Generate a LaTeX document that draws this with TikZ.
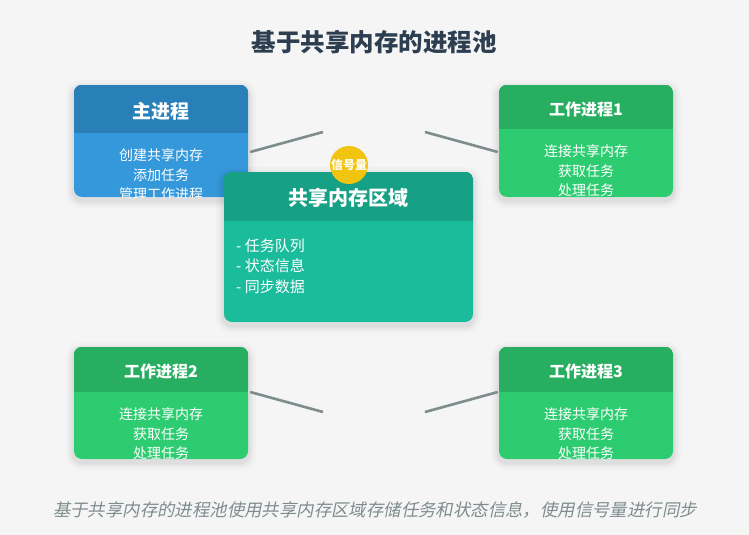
\documentclass[tikz,border=0pt]{standalone}
\usepackage{fontspec}
\setmainfont{Noto Sans CJK SC}
\newfontfamily\capfont[FakeSlant=0.2]{Noto Sans CJK SC}

\definecolor{bgcol}{HTML}{F5F5F5}
\definecolor{titlecol}{HTML}{2C3E50}
\definecolor{linkcol}{HTML}{7F8C8D}
\definecolor{blueDark}{HTML}{2980B9}
\definecolor{blueLight}{HTML}{3498DB}
\definecolor{greenDark}{HTML}{27AE60}
\definecolor{greenLight}{HTML}{2ECC71}
\definecolor{tealDark}{HTML}{16A085}
\definecolor{tealLight}{HTML}{1ABC9C}
\definecolor{semcol}{HTML}{F1C40F}

\tikzset{
  softshadow/.style={
    preaction={draw=black, draw opacity=0.02, line width=16pt, transform canvas={yshift=-3pt}},
    preaction={draw=black, draw opacity=0.03, line width=10pt, transform canvas={yshift=-3pt}},
    preaction={draw=black, draw opacity=0.04, line width=5pt, transform canvas={yshift=-3pt}}},
  card/.style={rectangle, rounded corners=8pt, inner sep=0pt,
    minimum width=174pt, minimum height=112pt, softshadow},
  headtxt/.style={text=white, inner sep=0pt, font=\bfseries\fontsize{16}{19}\selectfont},
  bodytxt/.style={text=white, inner sep=0pt, align=center,
    font=\fontsize{14}{19.5}\selectfont},
  link/.style={draw=linkcol, line width=2.6pt}
}

\begin{document}
\begin{tikzpicture}[x=1pt, y=-1pt]

    % Hintergrund
    \fill[bgcol] (0,0) rectangle (749,535);
    \useasboundingbox (0,0) rectangle (749,535);

    % Titel
    \node[text=titlecol, font=\bfseries\fontsize{24.5}{28}\selectfont] (title) at (374,42) {基于共享内存的进程池};

    % Verbindungen (freie Enden)
    \coordinate (linkA) at (323,132);
    \coordinate (linkB) at (425,132);
    \coordinate (linkC) at (323,412);
    \coordinate (linkD) at (425,412);

    % Hauptprozess
    \node[card, fill=blueLight] (main) at (161,141) {};
    \begin{scope}
      \clip[rounded corners=8pt] (main.south west) rectangle (main.north east);
      \fill[blueDark] (main.north west) rectangle (248,133);
      \node[headtxt, font=\bfseries\fontsize{19}{22}\selectfont] (mainT) at (161,111) {主进程};
      \node[bodytxt] (mainB) at (161,175) {创建共享内存\\添加任务\\管理工作进程};
    \end{scope}

    % Arbeitsprozess 1
    \node[card, fill=greenLight] (work1) at (586,141) {};
    \begin{scope}
      \clip[rounded corners=8pt] (work1.south west) rectangle (work1.north east);
      \fill[greenDark] (work1.north west) rectangle (673,129);
      \node[headtxt] (work1T) at (586,109) {工作进程1};
      \node[bodytxt] (work1B) at (586,171) {连接共享内存\\获取任务\\处理任务};
    \end{scope}

    % Arbeitsprozess 2
    \node[card, fill=greenLight] (work2) at (161,403) {};
    \begin{scope}
      \clip[rounded corners=8pt] (work2.south west) rectangle (work2.north east);
      \fill[greenDark] (work2.north west) rectangle (248,392);
      \node[headtxt] (work2T) at (161,371) {工作进程2};
      \node[bodytxt] (work2B) at (161,434) {连接共享内存\\获取任务\\处理任务};
    \end{scope}

    % Arbeitsprozess 3
    \node[card, fill=greenLight] (work3) at (586,403) {};
    \begin{scope}
      \clip[rounded corners=8pt] (work3.south west) rectangle (work3.north east);
      \fill[greenDark] (work3.north west) rectangle (673,392);
      \node[headtxt] (work3T) at (586,371) {工作进程3};
      \node[bodytxt] (work3B) at (586,434) {连接共享内存\\获取任务\\处理任务};
    \end{scope}

    % Linien
    \draw[link] ([xshift=2pt, yshift=-11pt]main.east) -- (linkA);
    \draw[link] (linkB) -- ([xshift=-1pt, yshift=-11pt]work1.west);
    \draw[link] ([xshift=2pt, yshift=11pt]work2.east) -- (linkC);
    \draw[link] (linkD) -- ([xshift=-1pt, yshift=11pt]work3.west);

    % Gemeinsamer Speicher
    \node[card, fill=tealLight, minimum width=249pt, minimum height=150pt] (shm) at (348.5,247) {};
    \begin{scope}
      \clip[rounded corners=8pt] (shm.south west) rectangle (shm.north east);
      \fill[tealDark] (shm.north west) rectangle (473,221);
      \node[headtxt, font=\bfseries\fontsize{20}{24}\selectfont] (shmT) at (348.5,198) {共享内存区域};
    \end{scope}
    \node[bodytxt, align=left, anchor=west, font=\fontsize{15}{20.5}\selectfont] (shmB) at (236,266) {- 任务队列\\- 状态信息\\- 同步数据};

    % Semaphor
    \node[circle, fill=semcol, minimum size=38pt, inner sep=0pt, text=white,
      font=\bfseries\fontsize{12}{14}\selectfont] (sem) at (349,165) {信号量};

    % Beschreibung
    \node[text=linkcol, font=\capfont\fontsize{17.4}{20}\selectfont] (caption) at (375,510) {基于共享内存的进程池使用共享内存区域存储任务和状态信息，使用信号量进行同步};

\end{tikzpicture}
\end{document}
